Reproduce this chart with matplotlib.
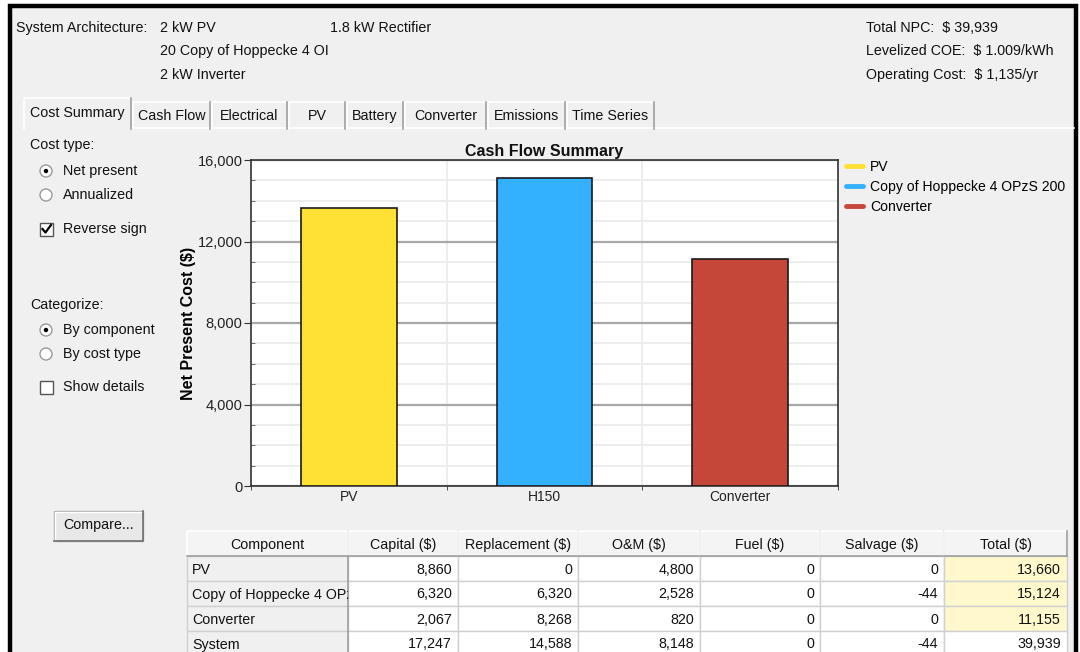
import matplotlib
matplotlib.use('Agg')
import matplotlib.pyplot as plt
from matplotlib.patches import Rectangle, Circle
from matplotlib.lines import Line2D
from matplotlib.ticker import MultipleLocator, FuncFormatter

# --- data ---
components = ['PV', 'Copy of Hoppecke 4 OPzS 200', 'Converter']
bar_labels = ['PV', 'H150', 'Converter']
capital = [8860, 6320, 2067]
replacement = [0, 6320, 8268]
om = [4800, 2528, 820]
fuel = [0, 0, 0]
salvage = [0, -44, 0]
total = [13660, 15124, 11155]
bar_colors = ['#FFE135', '#33B1FF', '#C5473A']

columns = ['Component', 'Capital ($)', 'Replacement ($)', 'O&M ($)',
           'Fuel ($)', 'Salvage ($)', 'Total ($)']
arch_col1 = ['2 kW PV', '20 Copy of Hoppecke 4 OI', '2 kW Inverter']
arch_col2 = ['1.8 kW Rectifier']
summary = ['Total NPC:  $ 39,939', 'Levelized COE:  $ 1.009/kWh',
           'Operating Cost:  $ 1,135/yr']
tabs = ['Cost Summary', 'Cash Flow', 'Electrical', 'PV', 'Battery',
        'Converter', 'Emissions', 'Time Series']

GUI = ['Liberation Sans', 'DejaVu Sans']
CHART = ['Liberation Sans', 'DejaVu Sans']
BG = '#F0F0F0'
FS = 10.3

fig = plt.figure(figsize=(10.8, 6.52), dpi=100)
fig.patch.set_facecolor('white')
ui = fig.add_axes([0, 0, 1, 1])
ui.set_xlim(0, 1080)
ui.set_ylim(652, 0)
ui.axis('off')


def txt(x, y, s, ha='left', size=FS, **kw):
    return ui.text(x, y, s, ha=ha, va='center', fontsize=size,
                   family=GUI, color='#111111', **kw)


# window
ui.add_patch(Rectangle((10, 6), 1066, 660, facecolor=BG, edgecolor='black',
                       lw=3.2, zorder=0))

# header
txt(16, 28, 'System Architecture:')
for i, s in enumerate(arch_col1):
    txt(160, 28 + i * 23.5, s)
for i, s in enumerate(arch_col2):
    txt(330, 28 + i * 23.5, s)
for i, s in enumerate(summary):
    txt(866, 28 + i * 23.5, s)

# tabs
tab_edges = [24, 133, 212, 289, 347, 405, 488, 567, 656]
ui.plot([131, 1074], [128, 128], color='white', lw=1.2)
for i, s in enumerate(tabs):
    x0, x1 = tab_edges[i], tab_edges[i + 1] - 2
    top = 98 if i == 0 else 102
    ui.add_patch(Rectangle((x0, top), x1 - x0, 129 - top, facecolor=BG,
                           edgecolor='none', zorder=1))
    ui.plot([x0, x0, x1], [129, top, top], color='white', lw=1.2, zorder=2)
    ui.plot([x1, x1], [top, 129], color='#A0A0A0', lw=1.2, zorder=2)
    txt((x0 + x1) / 2, 113 if i == 0 else 116, s, ha='center', zorder=3)

# left controls
txt(30, 145, 'Cost type:')
txt(30, 305, 'Categorize:')
radios = [('Net present', 171, True), ('Annualized', 195, False),
          ('By component', 330, True), ('By cost type', 354, False)]
for s, y, on in radios:
    ui.add_patch(Circle((46, y), 6, facecolor='white', edgecolor='#9A9A9A',
                        lw=1))
    if on:
        ui.add_patch(Circle((46, y), 2.2, facecolor='black'))
    txt(63, y, s)
checks = [('Reverse sign', 229, True), ('Show details', 387, False)]
for s, y, on in checks:
    ui.add_patch(Rectangle((40, y - 6.5), 13, 13, facecolor='white',
                           edgecolor='#555555', lw=1))
    if on:
        ui.plot([42.5, 45.5, 51], [y, y + 3.5, y - 4], color='black', lw=1.6)
    txt(63, y, s)

# compare button
ui.add_patch(Rectangle((54, 511), 89, 30, facecolor='#E8E8E8',
                       edgecolor='#ADADAD', lw=1))
ui.plot([55, 55, 142], [540, 512, 512], color='white', lw=1)
ui.plot([143, 143, 54], [511, 541, 541], color='#707070', lw=1.2)
txt(98.5, 525, 'Compare...', ha='center')

# chart
ax = fig.add_axes([251 / 1080, 1 - 486 / 652, (838 - 251) / 1080,
                   (486 - 160) / 652])
ax.set_facecolor('white')
x = list(range(len(total)))
ax.bar(x, total, width=0.49, color=bar_colors, edgecolor='#1A1A1A', lw=1.2,
       zorder=3)
ax.set_xlim(-0.5, len(total) - 0.5)
ax.set_ylim(0, 16000)
ax.yaxis.set_major_locator(MultipleLocator(4000))
ax.yaxis.set_minor_locator(MultipleLocator(1000))
ax.yaxis.set_major_formatter(FuncFormatter(lambda v, p: f'{v:,.0f}'))
ax.set_xticks(x)
ax.set_xticklabels(bar_labels, family=CHART, fontsize=10, color='#222222')
ax.set_xticks([i + 0.5 for i in x[:-1]] + [-0.5, len(x) - 0.5], minor=True)
ax.tick_params(axis='x', which='major', length=0, pad=3)
ax.tick_params(axis='x', which='minor', length=3, direction='out',
               color='#333333')
ax.tick_params(axis='y', which='major', length=5, direction='out',
               color='#333333', labelsize=10.5, pad=1)
ax.tick_params(axis='y', which='minor', length=3, direction='in',
               color='#555555')
for lab in ax.get_yticklabels():
    lab.set_family(CHART)
    lab.set_color('#222222')
ax.grid(axis='y', which='major', color='#A8A8A8', lw=1.6, zorder=1)
ax.grid(axis='y', which='minor', color='#EDEDED', lw=1.4, zorder=0)
ax.grid(axis='x', which='minor', color='#EDEDED', lw=1.4, zorder=0)
for sp in ax.spines.values():
    sp.set_color('#333333')
    sp.set_linewidth(1.2)
ax.set_title('Cash Flow Summary', family=CHART, fontsize=11.5,
             fontweight='bold', pad=3, color='#111111')
ax.set_ylabel('Net Present Cost ($)', family=CHART, fontsize=11.5,
              fontweight='bold', labelpad=1, color='black')
handles = [Line2D([], [], color=c, lw=3.5, solid_capstyle='round')
           for c in bar_colors]
ax.legend(handles, components, loc='upper left',
          bbox_to_anchor=(0.997, 1.03), frameon=False, handlelength=1.2,
          handletextpad=0.5, labelspacing=0.42, borderaxespad=0.3,
          prop={'family': CHART, 'size': 10.1})

# table
col_edges = [187, 348, 458, 578, 700, 820, 944, 1067]
row_edges = [531, 556, 581, 606, 631, 656]
rows = []
for i, name in enumerate(components):
    rows.append([name, capital[i], replacement[i], om[i], fuel[i],
                 salvage[i], total[i]])
rows.append(['System', sum(capital), sum(replacement), sum(om), sum(fuel),
             sum(salvage), sum(total)])

for j, head in enumerate(columns):
    x0, x1 = col_edges[j], col_edges[j + 1]
    y0, y1 = row_edges[0], row_edges[1]
    ui.add_patch(Rectangle((x0, y0), x1 - x0, y1 - y0, facecolor='#F4F4F4',
                           edgecolor='none'))
    ui.plot([x0, x0, x1], [y1, y0, y0], color='white', lw=1.2)
    ui.plot([x1, x1], [y0, y1], color='#A0A0A0', lw=1.2)
    ui.plot([x0, x1], [y1, y1], color='#A0A0A0', lw=1.2)
    txt((x0 + x1) / 2, (y0 + y1) / 2 + 1, head, ha='center')

for r, row in enumerate(rows):
    y0, y1 = row_edges[r + 1], row_edges[r + 2]
    ym = (y0 + y1) / 2 + 1
    for j, val in enumerate(row):
        x0, x1 = col_edges[j], col_edges[j + 1]
        fc = 'white'
        if j == 0:
            fc = BG
        elif j == len(row) - 1 and r < len(components):
            fc = '#FFF8CC'
        cell = Rectangle((x0, y0), x1 - x0, y1 - y0, facecolor=fc,
                         edgecolor='#D0D0D0', lw=1)
        ui.add_patch(cell)
        if j == 0:
            t = txt(x0 + 5, ym, val, clip_on=True)
            t.set_clip_path(cell)
        else:
            txt(x1 - 6, ym, f'{val:,}', ha='right')
    ui.plot([col_edges[1], col_edges[1]], [y0, y1], color='#A0A0A0', lw=1.2)

fig.savefig('out.png', dpi=100, facecolor=fig.get_facecolor())
